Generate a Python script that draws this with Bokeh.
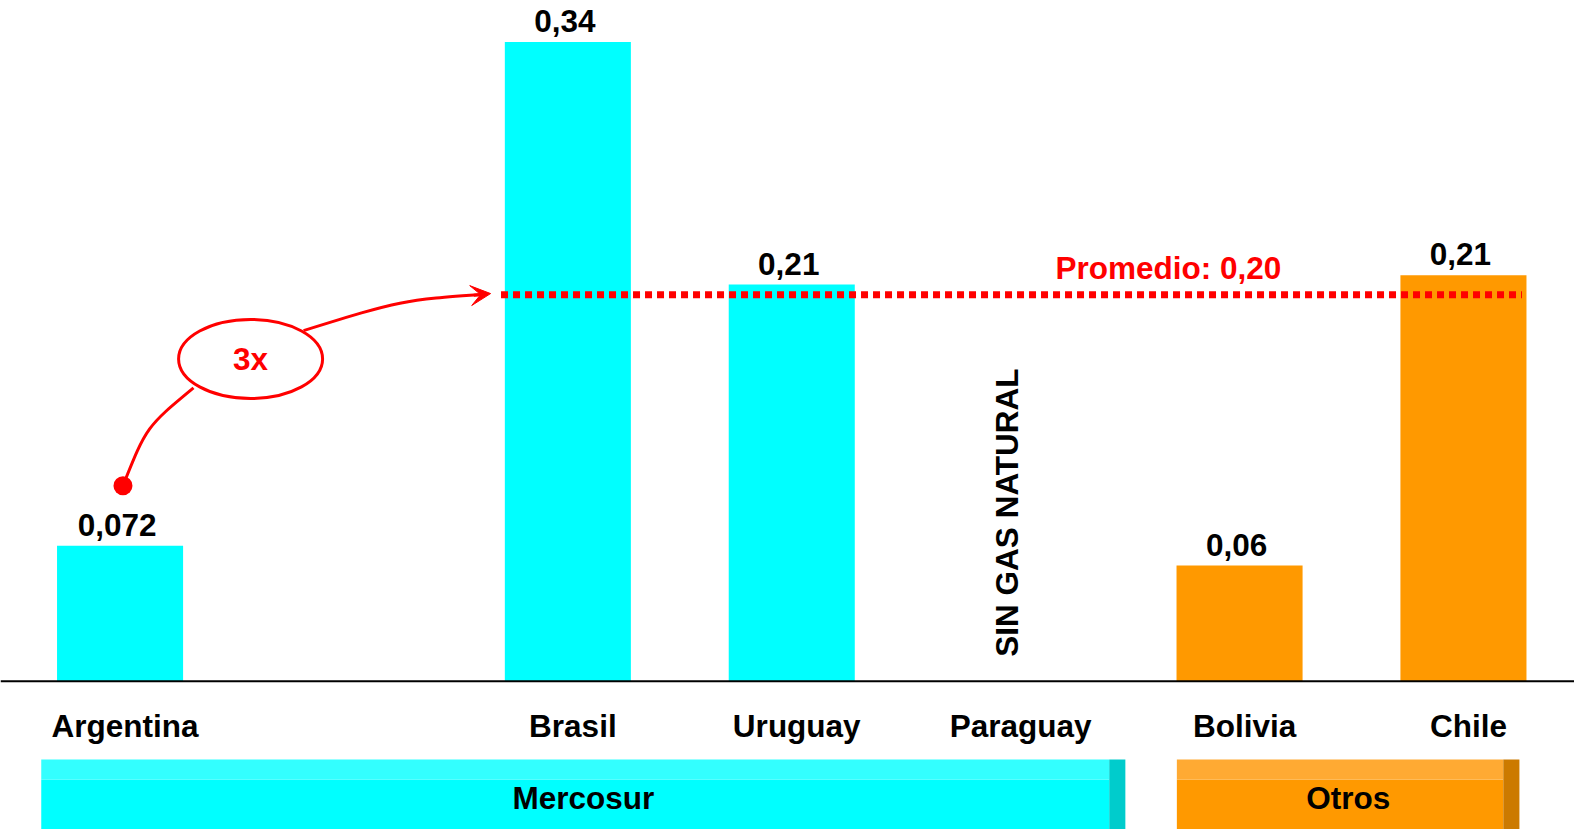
from bokeh.plotting import figure
from bokeh.models import Span, Arrow, VeeHead, Range1d
from bokeh.core.properties import value
from bokeh.embed import file_html
from bokeh.resources import INLINE

# ---- data ----
countries = ["Argentina", "Brasil", "Uruguay", "Paraguay", "Bolivia", "Chile"]
values = [0.072, 0.34, 0.211, None, 0.0615, 0.216]
value_labels = ["0,072", "0,34", "0,21", "", "0,06", "0,21"]
groups = ["Mercosur", "Mercosur", "Mercosur", "Mercosur", "Otros", "Otros"]
group_names = ["Mercosur", "Otros"]
average = 0.2056
average_label = "Promedio: 0,20"
ratio_label = "3x"
no_data_label = "SIN GAS NATURAL"

FONT = value("Liberation Sans")
FS = "31.5px"
CYAN = "#00FFFF"
ORANGE = "#FF9900"
RED = "#FF0000"
group_colors = {"Mercosur": (CYAN, "#33FFFF", "#00CCCC"),
                "Otros": (ORANGE, "#FFAA33", "#CC7A00")}

# layout: Argentina separated by an empty slot
xpos = [0, 2, 3, 4, 5, 6]
BAR_W = 0.563

W, H = 1574, 829
Y0, Y1 = -0.0789, 0.3621
p = figure(width=W, height=H, output_backend="svg", toolbar_location=None,
           x_range=Range1d(-0.534, 6.496), y_range=Range1d(Y0, Y1),
           min_border=0, min_border_left=0, min_border_right=0,
           min_border_top=0, min_border_bottom=0)
p.axis.visible = False
p.grid.visible = False
p.outline_line_color = None
p.background_fill_color = "white"

# bars
bx, btop, bcol = [], [], []
for c, x, v, g in zip(countries, xpos, values, groups):
    if v is not None:
        bx.append(x)
        btop.append(v)
        bcol.append(group_colors[g][0])
p.vbar(x=bx, top=btop, bottom=0, width=BAR_W, fill_color=bcol, line_color=None)

# baseline
p.add_layout(Span(location=0, dimension="width", line_color="black", line_width=2))

# value labels
lx, ly, lt = [], [], []
for x, v, t in zip(xpos, values, value_labels):
    if v is not None:
        lx.append(x); ly.append(v); lt.append(t)
p.text(x=lx, y=ly, text=lt, text_font=FONT, text_font_style="bold",
       text_font_size=FS, text_align="center", text_baseline="middle",
       y_offset=-21, x_offset=-3, text_color="black")

# no-data label
pi = countries.index("Paraguay")
p.text(x=[xpos[pi] - 0.04], y=[0.0897], text=[no_data_label], angle=1.5708,
       text_font=FONT, text_font_style="bold", text_font_size=FS,
       text_align="center", text_baseline="middle", text_color="black")

# category labels
p.text(x=xpos, y=[-0.0236] * len(xpos), text=countries, text_font=FONT,
       text_font_style="bold", text_font_size=FS, text_align="center",
       text_baseline="middle", x_offset=5, text_color="black")

# group bands
pad_left = {"Mercosur": 0.352, "Otros": 0.28}
pad_right = {"Mercosur": 0.49, "Otros": 0.25}
strip = 0.072
y_top, y_light = -0.0417, -0.0523
for g in group_names:
    xs = [x for x, gg in zip(xpos, groups) if gg == g]
    l, r = min(xs) - pad_left[g], max(xs) + pad_right[g]
    main, light, dark = group_colors[g]
    p.quad(left=[l], right=[r - strip], top=[y_light], bottom=[Y0],
           fill_color=main, line_color=None)
    p.quad(left=[l], right=[r - strip], top=[y_top], bottom=[y_light],
           fill_color=light, line_color=None)
    p.quad(left=[r - strip], right=[r], top=[y_top], bottom=[Y0],
           fill_color=dark, line_color=None)
    p.text(x=[(l + r) / 2], y=[-0.0624], text=[g], text_font=FONT,
           text_font_style="bold", text_font_size=FS, text_align="center",
           text_baseline="middle", text_color="black")

# average line
bi, ci = countries.index("Brasil"), countries.index("Chile")
p.segment(x0=[xpos[bi] - BAR_W / 2 - 0.017], x1=[xpos[ci] + BAR_W / 2 - 0.02],
          y0=[average], y1=[average], line_color=RED, line_width=7,
          line_dash="7 5")
p.text(x=[4.7], y=[average], text=[average_label], text_font=FONT,
       text_font_style="bold", text_font_size=FS, text_align="center",
       text_baseline="middle", y_offset=-27, x_offset=-4, text_color=RED)

# ratio annotation
ai = countries.index("Argentina")
p.scatter(x=[xpos[ai] + 0.013], y=[0.104], size=19, fill_color=RED, line_color=None)
p.bezier(x0=[xpos[ai] + 0.013], y0=[0.104], x1=[0.328], y1=[0.156],
         cx0=[0.1184], cy0=[0.1354], cx1=[0.1184], cy1=[0.1354],
         line_color=RED, line_width=3)
p.bezier(x0=[0.8196], y0=[0.1865], x1=[1.64], y1=[average + 0.0004],
         cx0=[1.257], cy0=[0.2027], cx1=[1.257], cy1=[0.2027],
         line_color=RED, line_width=3)
p.add_layout(Arrow(end=VeeHead(size=20, fill_color=RED, line_color=RED, line_width=1),
                   x_start=1.58, y_start=average - 0.0003, x_end=1.655, y_end=average + 0.0006,
                   line_color=RED, line_width=3))
p.ellipse(x=[0.583], y=[0.1714], width=[144], height=[79],
          width_units="screen", height_units="screen",
          fill_color="white", line_color=RED, line_width=3)
p.text(x=[0.583], y=[0.1714], text=[ratio_label], text_font=FONT,
       text_font_style="bold", text_font_size=FS, text_align="center",
       text_baseline="middle", text_color=RED)

open("out.html", "w").write(file_html(p, INLINE))
